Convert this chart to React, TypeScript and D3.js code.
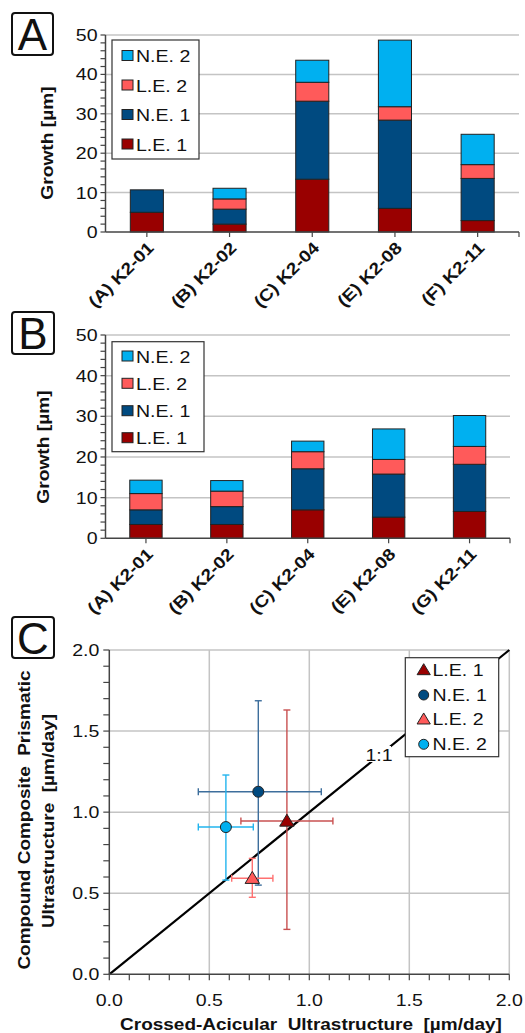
import React from 'react'
import * as d3 from 'd3'

// ---- data ----
const seriesKeys = ['L.E. 1', 'N.E. 1', 'L.E. 2', 'N.E. 2']
const seriesColors = ['#990000', '#004a80', '#ff5a5a', '#00b0f0']

const categoriesA = ['(A) K2-01', '(B) K2-02', '(C) K2-04', '(E) K2-08', '(F) K2-11']
const le1A = [5.0, 2.0, 13.4, 6.0, 2.9]
const ne1A = [5.7, 3.8, 19.8, 22.4, 10.7]
const le2A = [0, 2.6, 4.8, 3.4, 3.5]
const ne2A = [0, 2.7, 5.6, 16.9, 7.7]

const categoriesB = ['(A) K2-01', '(B) K2-02', '(C) K2-04', '(E) K2-08', '(G) K2-11']
const le1B = [3.4, 3.4, 7.0, 5.2, 6.6]
const ne1B = [3.6, 4.4, 10.1, 10.6, 11.6]
const le2B = [4.0, 3.8, 4.2, 3.6, 4.4]
const ne2B = [3.3, 2.6, 2.6, 7.5, 7.6]

const growthTicks = [0, 10, 20, 30, 40, 50]
const rateTicks = [0, 0.5, 1.0, 1.5, 2.0]

// scatter: crossed-acicular (x) vs compound composite prismatic (y)
const rateX = [0.888, 0.745, 0.715, 0.583]
const rateY = [0.945, 1.126, 0.592, 0.908]
const rateXLow = [0.658, 0.445, 0.612, 0.445]
const rateXHigh = [1.118, 1.06, 0.818, 0.72]
const rateYLow = [0.277, 0.55, 0.475, 0.581]
const rateYHigh = [1.63, 1.687, 0.715, 1.229]
const markerShapes = ['triangle', 'circle', 'triangle', 'circle']
const errColors = ['#c85050', '#3d6e9c', '#ff7070', '#22b4ee']

const FONT = 'Liberation Sans, Arial, sans-serif'
const SX = 1.15

const T = ({ x, y, rot = 0, size = 17, bold = false, anchor = 'start', sx = SX, children }: any) => (
  <text
    transform={`translate(${x},${y}) rotate(${rot}) scale(${sx},1)`}
    fontSize={size}
    fontWeight={bold ? 'bold' : 'normal'}
    textAnchor={anchor}
    fontFamily={FONT}
    fill="#111"
    style={{ whiteSpace: 'pre' }}
  >
    {children}
  </text>
)

const PanelLetter = ({ x, y, w, h, letter }: any) => (
  <g>
    <rect x={x} y={y} width={w} height={h} rx={3} fill="white" stroke="#111" strokeWidth={2} />
    <T x={x + w / 2} y={y + h / 2 + 16} size={44} anchor="middle" sx={1}>{letter}</T>
  </g>
)

const BarPanel = (props: any) => {
  const { cats, values, x0, x1, yTop, yBottom, legend, letterBox, letter, titleX, titleY } = props
  const x = d3.scaleBand().domain(cats).range([x0, x1]).paddingInner(0.6).paddingOuter(0.3)
  const y = d3.scaleLinear().domain([0, 50]).range([yBottom, yTop])
  const rows = cats.map((c: string, i: number) => {
    const r: any = { cat: c }
    seriesKeys.forEach((k, j) => (r[k] = values[j][i]))
    return r
  })
  const stacked = d3.stack().keys(seriesKeys)(rows)
  const minor = d3.range(0, 50.01, 2)

  return (
    <g>
      {growthTicks.slice(1).map(t => (
        <line key={t} x1={x0} x2={x1} y1={y(t)} y2={y(t)} stroke="#c4c4c4" strokeWidth={1.5} />
      ))}
      {stacked.map((s: any, j: number) =>
        s.map((d: any, i: number) =>
          d[1] - d[0] > 0 ? (
            <rect
              key={j + '-' + i}
              x={x(cats[i])}
              width={x.bandwidth()}
              y={y(d[1])}
              height={y(d[0]) - y(d[1])}
              fill={seriesColors[j]}
              stroke="#222"
              strokeWidth={1}
            />
          ) : null
        )
      )}
      {/* axes */}
      <line x1={x0} x2={x0} y1={yTop} y2={yBottom} stroke="#444" strokeWidth={1.5} />
      <line x1={x0} x2={x1} y1={yBottom} y2={yBottom} stroke="#444" strokeWidth={1.5} />
      <line x1={x1} x2={x1} y1={yBottom} y2={yBottom + 5} stroke="#444" strokeWidth={1.2} />
      {minor.map(t => (
        <line key={t} x1={x0 - 5} x2={x0} y1={y(t)} y2={y(t)} stroke="#444" strokeWidth={1.2} />
      ))}
      {growthTicks.map(t => (
        <T key={t} x={x0 - 8} y={y(t) + 6} anchor="end">{t}</T>
      ))}
      {cats.map((c: string) => {
        const cx = (x(c) as number) + x.bandwidth() / 2
        return (
          <g key={c}>
            <line x1={cx} x2={cx} y1={yBottom} y2={yBottom + 5} stroke="#444" strokeWidth={1.2} />
            <T x={cx + 8} y={yBottom + 17} rot={-45} size={16.7} bold anchor="end">{c}</T>
          </g>
        )
      })}
      <T x={titleX} y={titleY} rot={-90} size={16.7} bold anchor="middle">Growth [µm]</T>
      {/* legend */}
      <rect x={legend.x} y={legend.y} width={legend.w} height={legend.h} fill="white" stroke="#333" strokeWidth={1.2} />
      {legend.items.map((cy: number, k: number) => {
        const j = 3 - k
        return (
          <g key={k}>
            <rect x={legend.x + 10} y={cy - 5} width={11} height={10} fill={seriesColors[j]} stroke="#222" strokeWidth={1} />
            <T x={legend.x + 24} y={cy + 6.5}>{seriesKeys[j]}</T>
          </g>
        )
      })}
      <PanelLetter {...letterBox} letter={letter} />
    </g>
  )
}

const Marker = ({ shape, cx, cy, fill, r }: any) =>
  shape === 'circle' ? (
    <circle cx={cx} cy={cy} r={r} fill={fill} stroke="#222" strokeWidth={1} />
  ) : (
    <path
      d={`M${cx},${cy - r * 1.15}L${cx + r * 1.2},${cy + r * 0.85}L${cx - r * 1.2},${cy + r * 0.85}Z`}
      fill={fill}
      stroke="#222"
      strokeWidth={1}
    />
  )

const ScatterPanel = () => {
  const x0 = 109.3, x1 = 509.3, yTop = 650, yBottom = 974.3
  const x = d3.scaleLinear().domain([0, 2]).range([x0, x1])
  const y = d3.scaleLinear().domain([0, 2]).range([yBottom, yTop])
  const minor = d3.range(0, 2.001, 0.1)
  const cap = 3.5
  const legendItems = [670, 695, 719.3, 744.3]
  return (
    <g>
      {rateTicks.slice(1).map(t => (
        <g key={t}>
          <line x1={x0} x2={x1} y1={y(t)} y2={y(t)} stroke="#c4c4c4" strokeWidth={1.5} />
          <line x1={x(t)} x2={x(t)} y1={yTop} y2={yBottom} stroke="#c4c4c4" strokeWidth={1.5} />
        </g>
      ))}
      <line x1={x(0)} y1={y(0)} x2={x(2)} y2={y(2)} stroke="#000" strokeWidth={2.2} />
      <rect x={367} y={746} width={24} height={16} fill="white" />
      <T x={379} y={760.5} anchor="middle">1:1</T>
      {rateX.map((vx, i) => (
        <g key={'e' + i} stroke={errColors[i]} strokeWidth={1.4}>
          <line x1={x(rateXLow[i])} x2={x(rateXHigh[i])} y1={y(rateY[i])} y2={y(rateY[i])} />
          <line x1={x(rateXLow[i])} x2={x(rateXLow[i])} y1={y(rateY[i]) - cap} y2={y(rateY[i]) + cap} />
          <line x1={x(rateXHigh[i])} x2={x(rateXHigh[i])} y1={y(rateY[i]) - cap} y2={y(rateY[i]) + cap} />
          <line x1={x(vx)} x2={x(vx)} y1={y(rateYLow[i])} y2={y(rateYHigh[i])} />
          <line x1={x(vx) - cap} x2={x(vx) + cap} y1={y(rateYLow[i])} y2={y(rateYLow[i])} />
          <line x1={x(vx) - cap} x2={x(vx) + cap} y1={y(rateYHigh[i])} y2={y(rateYHigh[i])} />
        </g>
      ))}
      {rateX.map((vx, i) => (
        <Marker key={'m' + i} shape={markerShapes[i]} cx={x(vx)} cy={y(rateY[i])} r={markerShapes[i] === 'circle' ? 5.5 : 6} fill={seriesColors[i]} />
      ))}
      {/* axes */}
      <line x1={x0} x2={x0} y1={yTop} y2={yBottom} stroke="#444" strokeWidth={1.5} />
      <line x1={x0} x2={x1} y1={yBottom} y2={yBottom} stroke="#444" strokeWidth={1.5} />
      {minor.map(t => (
        <g key={t}>
          <line x1={x0 - 6} x2={x0} y1={y(t)} y2={y(t)} stroke="#444" strokeWidth={1.2} />
          <line x1={x(t)} x2={x(t)} y1={yBottom} y2={yBottom + 6} stroke="#444" strokeWidth={1.2} />
        </g>
      ))}
      {rateTicks.map(t => (
        <g key={t}>
          <T x={x0 - 10} y={y(t) + 6} anchor="end">{d3.format('.1f')(t)}</T>
          <T x={x(t)} y={1006} anchor="middle">{d3.format('.1f')(t)}</T>
        </g>
      ))}
      <T x={311} y={1029.5} size={16.5} bold anchor="middle">{'Crossed-Acicular  Ultrastructure  [µm/day]'}</T>
      <T x={30} y={820} rot={-90} size={16.5} bold anchor="middle">{'Compound Composite  Prismatic'}</T>
      <T x={54} y={821} rot={-90} size={16.5} bold anchor="middle">{'Ultrastructure  [µm/day]'}</T>
      {/* legend */}
      <rect x={405.3} y={657.7} width={93.4} height={99} fill="white" stroke="#333" strokeWidth={1.2} />
      {legendItems.map((cy, i) => (
        <g key={i}>
          <Marker shape={markerShapes[i]} cx={423.7} cy={cy} r={markerShapes[i] === 'circle' ? 5 : 5.5} fill={seriesColors[i]} />
          <T x={432.5} y={cy + 6}>{seriesKeys[i]}</T>
        </g>
      ))}
      <PanelLetter x={12} y={617} w={42} h={41} letter="C" />
    </g>
  )
}

export default function App() {
  return (
    <svg width={525} height={1033} style={{ position: 'absolute', left: 0, top: 0, background: 'white' }}>
      <rect width={525} height={1033} fill="white" />
      <BarPanel
        cats={categoriesA}
        values={[le1A, ne1A, le2A, ne2A]}
        x0={105.5}
        x1={519}
        yTop={35}
        yBottom={232}
        titleX={53}
        titleY={143}
        legend={{ x: 112, y: 40, w: 87, h: 119, items: [55.5, 85, 114.5, 144] }}
        letterBox={{ x: 12, y: 13, w: 41, h: 42 }}
        letter="A"
      />
      <BarPanel
        cats={categoriesB}
        values={[le1B, ne1B, le2B, ne2B]}
        x0={105.5}
        x1={510}
        yTop={335}
        yBottom={538.3}
        titleX={49}
        titleY={447}
        legend={{ x: 112, y: 341.7, w: 92, h: 110, items: [356, 383.3, 410.7, 437.7] }}
        letterBox={{ x: 12, y: 312, w: 42, h: 42 }}
        letter="B"
      />
      <ScatterPanel />
    </svg>
  )
}
